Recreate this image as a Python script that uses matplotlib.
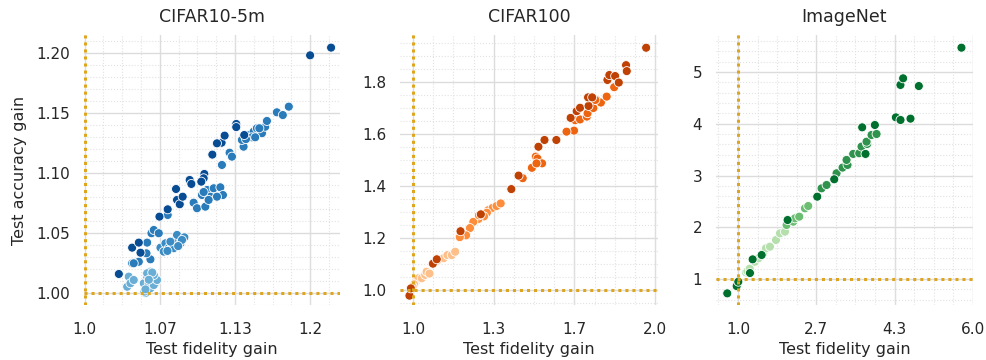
import matplotlib
matplotlib.use("Agg")
import matplotlib.pyplot as plt
from matplotlib.ticker import AutoMinorLocator, FixedLocator, FormatStrFormatter, MultipleLocator
import numpy as np

# ---------------- data ----------------
titles = ["CIFAR10-5m", "CIFAR100", "ImageNet"]
xlabel = "Test fidelity gain"
ylabel = "Test accuracy gain"

# CIFAR10-5m  (level: 0 lightest ... 3 darkest)
c10_x = [1.054, 1.0531, 1.0584, 1.0525, 1.0569, 1.0628, 1.0614, 1.0584, 1.0555, 1.0599,
         1.0643, 1.0392, 1.0378, 1.0407, 1.0436, 1.0555, 1.0614, 1.0540, 1.0600, 1.0570,
         1.0673, 1.0717, 1.0746, 1.0776, 1.0805, 1.0820, 1.0850, 1.0885, 1.0864, 1.0702,
         1.0790, 1.0761, 1.0735, 1.0830,
         1.0555, 1.0593, 1.0614, 1.0737, 1.0658, 1.0584, 1.0549, 1.0481, 1.0422, 1.0436,
         1.0967, 1.0997, 1.1071, 1.1041, 1.1086, 1.1115, 1.1145, 1.1204, 1.1227, 1.1174,
         1.1100, 1.1056, 1.1218, 1.1286, 1.1307, 1.1410, 1.1395, 1.1454, 1.1499, 1.1528,
         1.1573, 1.1602, 1.1617, 1.1483, 1.1550, 1.1513, 1.1431, 1.1705, 1.1758, 1.1811,
         1.0304, 1.0422, 1.0481, 1.0496, 1.0664, 1.0737, 1.0811, 1.0820, 1.0844, 1.0870,
         1.0932, 1.0947, 1.1062, 1.1056, 1.1035, 1.1133, 1.1215, 1.1242, 1.1174, 1.1345,
         1.1345, 1.1416, 1.2000, 1.2186]
c10_y = [1.0000, 1.0011, 1.0039, 1.0081, 1.0081, 1.0081, 1.0066, 1.0177, 1.0136, 1.0136,
         1.0108, 1.0136, 1.0052, 1.0081, 1.0108, 1.0164, 1.0150, 1.0030, 1.0170, 1.0110,
         1.0377, 1.0413, 1.0372, 1.0399, 1.0441, 1.0483, 1.0413, 1.0463, 1.0441, 1.0344,
         1.0372, 1.0427, 1.0350, 1.0390,
         1.0419, 1.0497, 1.0524, 1.0649, 1.0497, 1.0280, 1.0330, 1.0260, 1.0247, 1.0247,
         1.0751, 1.0705, 1.0718, 1.0815, 1.0857, 1.0801, 1.0871, 1.0879, 1.0815, 1.0801,
         1.0774, 1.0840, 1.1065, 1.1167, 1.1134, 1.1217, 1.1273, 1.1314, 1.1342, 1.1370,
         1.1329, 1.1383, 1.1431, 1.1295, 1.1370, 1.1295, 1.1280, 1.1503, 1.1480, 1.1550,
         1.0158, 1.0377, 1.0419, 1.0335, 1.0635, 1.0696, 1.0865, 1.0774, 1.0738, 1.0801,
         1.0940, 1.0907, 1.0990, 1.0954, 1.0926, 1.1151, 1.1250, 1.1309, 1.1245, 1.1406,
         1.1380, 1.1314, 1.1977, 1.2041]
c10_lvl = [0] * 20 + [1] * 14 + [2] * 40 + [3] * 24

# CIFAR100
c100_x = [1.012, 1.022, 1.036, 1.004, 0.998, 1.050, 1.056, 1.068, 1.101, 1.126,
          1.142, 1.160, 1.174, 1.311, 1.329, 1.345, 1.362, 1.305, 1.293, 1.270,
          1.249, 1.272, 1.235, 1.219, 1.193,
          1.507, 1.514, 1.533, 1.491, 1.510, 1.453, 1.665, 1.634, 1.670, 1.690,
          1.718, 1.721, 1.745, 1.759, 1.776, 1.753, 1.800, 1.831,
          0.985, 0.991, 1.082, 1.098, 1.196, 1.280, 1.406, 1.436, 1.518, 1.543,
          1.592, 1.651, 1.676, 1.690, 1.725, 1.723, 1.740, 1.803, 1.811, 1.835,
          1.850, 1.880, 1.883, 1.963]
c100_y = [1.032, 1.045, 1.045, 1.022, 1.013, 1.058, 1.070, 1.063, 1.113, 1.122,
          1.134, 1.134, 1.147, 1.307, 1.316, 1.323, 1.333, 1.297, 1.283, 1.273,
          1.262, 1.287, 1.238, 1.210, 1.203,
          1.513, 1.506, 1.487, 1.470, 1.487, 1.430, 1.613, 1.609, 1.653, 1.656,
          1.667, 1.680, 1.700, 1.731, 1.721, 1.731, 1.744, 1.780,
          0.978, 1.006, 1.101, 1.118, 1.226, 1.291, 1.388, 1.440, 1.551, 1.577,
          1.577, 1.662, 1.688, 1.701, 1.708, 1.741, 1.741, 1.808, 1.827, 1.823,
          1.798, 1.865, 1.842, 1.932]
c100_lvl = [0] * 13 + [1] * 12 + [2] * 18 + [3] * 24

# ImageNet
inet_x = [1.170, 1.220, 1.200, 1.250, 1.362, 1.433, 1.539, 1.596, 1.681, 1.809,
          1.894, 2.000, 2.035, 2.177, 2.213, 2.305, 2.426, 2.496,
          2.780, 2.887, 3.099, 3.227, 3.333, 3.312, 3.454, 3.582, 3.631, 3.752,
          3.738, 3.844, 3.951,
          0.772, 0.972, 1.007, 1.255, 1.312, 1.504, 2.057, 2.688, 3.050, 3.716,
          3.645, 3.915, 4.362, 4.461, 4.674, 4.460, 4.517, 4.851, 5.759]
inet_y = [1.128, 1.180, 1.150, 1.200, 1.334, 1.399, 1.496, 1.593, 1.625, 1.754,
          1.883, 1.915, 2.044, 2.108, 2.173, 2.205, 2.366, 2.411,
          2.752, 2.817, 3.043, 3.153, 3.204, 3.301, 3.417, 3.430, 3.559, 3.610,
          3.654, 3.783, 3.802,
          0.723, 0.864, 0.948, 1.116, 1.380, 1.464, 2.140, 2.591, 2.927, 3.417,
          3.931, 3.976, 4.124, 4.073, 4.099, 4.750, 4.878, 4.729, 5.470]
inet_lvl = [0] * 12 + [1] * 6 + [2] * 13 + [3] * 19

panels_x = [c10_x, c100_x, inet_x]
panels_y = [c10_y, c100_y, inet_y]
panels_l = [c10_lvl, c100_lvl, inet_lvl]

x_ticks = [[1.0, 1.0667, 1.1333, 1.2], [1.0, 1.3333, 1.6667, 2.0], [1.0, 2.6667, 4.3333, 6.0]]
x_ticklabels = [["1.0", "1.07", "1.13", "1.2"], ["1.0", "1.3", "1.7", "2.0"], ["1.0", "2.7", "4.3", "6.0"]]
y_steps = [0.05, 0.2, 1.0]
y_fmts = ["%.2f", "%.1f", "%g"]
x_lims = [(0.9995, 1.2265), (0.946, 2.012), (0.532, 6.005)]
y_lims = [(0.990, 1.2146), (0.942, 1.981), (0.498, 5.715)]

palettes = [
    ["#6aaed6", "#3b8cc4", "#2a7bba", "#084d94"],
    ["#fdc08a", "#fd8c3b", "#ee6511", "#bf4104"],
    ["#b5e0ae", "#6bbd72", "#2f924d", "#00702e"],
]
ref_color = "#dea51e"

# ---------------- figure ----------------
plt.rcParams["font.family"] = ["DejaVu Sans"]
text_color = "#262626"
fig = plt.figure(figsize=(9.87, 3.6), dpi=100)
lefts = [84 / 987, 400 / 987, 716 / 987]
widths = [256 / 987, 258 / 987, 257 / 987]
bottom = 55 / 360
height = 270 / 360

for i in range(3):
    ax = fig.add_axes([lefts[i], bottom, widths[i], height])
    ax.set_facecolor("white")
    xs = np.array(panels_x[i])
    ys = np.array(panels_y[i])
    lv = np.array(panels_l[i])
    cols = [palettes[i][k] for k in lv]
    ax.scatter(xs, ys, c=cols, s=42, edgecolors="white", linewidths=0.6, zorder=2)
    ax.axvline(1.0, color=ref_color, lw=2.2, linestyle=(0, (1, 1.3)), zorder=3)
    ax.axhline(1.0, color=ref_color, lw=2.2, linestyle=(0, (1, 1.3)), zorder=3)
    ax.set_xlim(*x_lims[i])
    ax.set_ylim(*y_lims[i])
    ax.xaxis.set_major_locator(FixedLocator(x_ticks[i]))
    ax.set_xticklabels(x_ticklabels[i])
    ax.yaxis.set_major_locator(MultipleLocator(y_steps[i]))
    ax.yaxis.set_major_formatter(FormatStrFormatter(y_fmts[i]))
    ax.xaxis.set_minor_locator(AutoMinorLocator())
    ax.yaxis.set_minor_locator(AutoMinorLocator())
    ax.grid(which="major", color="#dcdcdc", lw=1.0, ls="-", zorder=0)
    ax.grid(which="minor", color="#e2e2e2", lw=0.8, ls=":", zorder=0)
    ax.set_axisbelow(True)
    for s in ax.spines.values():
        s.set_visible(False)
    ax.tick_params(which="both", length=0, labelsize=11, colors=text_color)
    ax.tick_params(axis="x", pad=12)
    ax.tick_params(axis="y", pad=10)
    ax.set_title(titles[i], fontsize=12.5, color=text_color, pad=9)
    ax.set_xlabel(xlabel, fontsize=11.5, color=text_color, labelpad=4)
    if i == 0:
        ax.set_ylabel(ylabel, fontsize=11.5, color=text_color, labelpad=7)

fig.savefig("out.png", dpi=100, facecolor="white")
